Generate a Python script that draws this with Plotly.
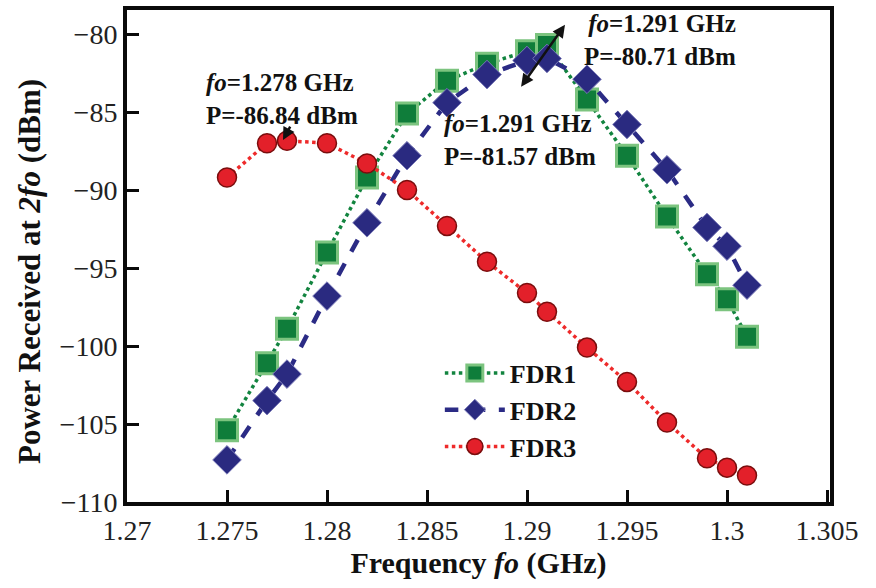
import plotly.graph_objects as go

# Measured second-harmonic power for three FDR configurations
freq_ghz = [1.275, 1.277, 1.278, 1.28, 1.282, 1.284, 1.286, 1.288,
            1.29, 1.291, 1.293, 1.295, 1.297, 1.299, 1.3, 1.301]
fdr1 = [-105.4, -101.1, -98.9, -94.0, -89.2, -85.1, -83.0, -81.9,
        -81.1, -80.71, -84.2, -87.8, -91.7, -95.4, -97.0, -99.4]
fdr2 = [-107.3, -103.5, -101.8, -96.8, -92.1, -87.8, -84.4, -82.6,
        -81.7, -81.57, -82.9, -85.8, -88.7, -92.4, -93.6, -96.1]
fdr3 = [-89.2, -87.0, -86.84, -87.0, -88.3, -90.0, -92.3, -94.6,
        -96.6, -97.8, -100.1, -102.3, -104.9, -107.2, -107.8, -108.3]

x_ticks = [1.27, 1.275, 1.28, 1.285, 1.29, 1.295, 1.3, 1.305]
x_tick_text = ["1.27", "1.275", "1.28", "1.285", "1.29", "1.295", "1.3", "1.305"]
y_ticks = [-110, -105, -100, -95, -90, -85, -80]
y_tick_text = ["\u2212110", "\u2212105", "\u2212100", "\u221295", "\u221290", "\u221285", "\u221280"]

# Peak readings called out on the plot
peak3 = (1.278, -86.84)
peak2 = (1.291, -81.57)
peak1 = (1.291, -80.71)

FONT = "Liberation Serif, Times New Roman, serif"

fig = go.Figure()
fig.add_trace(go.Scatter(
    x=freq_ghz, y=fdr1, name="<b>FDR1</b>", mode="lines+markers", legendgroup="a",
    line=dict(color="#12843f", width=3.5, dash="dot"),
    marker=dict(symbol="square", size=21, color="#0f7d3a",
                line=dict(color="#7cc47f", width=3)),
))
fig.add_trace(go.Scatter(
    x=freq_ghz, y=fdr2, name="<b>FDR2</b>", mode="lines+markers", legendgroup="b",
    line=dict(color="#2b2b85", width=4.5, dash="dash"),
    marker=dict(symbol="diamond", size=22, color="#2a2a80",
                line=dict(color="#7a7ab8", width=1)),
))
fig.add_trace(go.Scatter(
    x=freq_ghz, y=fdr3, name="<b>FDR3</b>", mode="lines+markers", legendgroup="c",
    line=dict(color="#ee2a2a", width=3.5, dash="dot"),
    marker=dict(symbol="circle", size=19, color="#e3202a",
                line=dict(color="#7a0d0d", width=1.5)),
))

ann_font = dict(family=FONT, size=25, color="#111111")
annotations = [
    # FDR3 peak label
    dict(x=peak3[0] - 0.00025, y=peak3[1] + 2.67,
         text="<b><i>fo</i>=1.278 GHz<br>P=-86.84 dBm</b>",
         xanchor="center", yanchor="middle", align="left", showarrow=False, font=ann_font),
    dict(x=peak3[0] - 0.0002, y=peak3[1] + 0.05, ax=peak3[0] + 0.0002, ay=peak3[1] + 1.0,
         xref="x", yref="y", axref="x", ayref="y", text="", showarrow=True,
         arrowhead=2, arrowsize=1, arrowwidth=2.5, arrowcolor="#111111"),
    # FDR2 peak label
    dict(x=peak2[0] - 0.00135, y=peak2[1] - 5.23,
         text="<b><i>fo</i>=1.291 GHz<br>P=-81.57 dBm</b>",
         xanchor="center", yanchor="middle", align="left", showarrow=False, font=ann_font),
    # FDR1 peak label
    dict(x=peak1[0] + 0.00955, y=peak1[1] + 0.35,
         text="<b><i>fo</i>=1.291 GHz<br>P=-80.71 dBm</b>",
         xanchor="right", yanchor="middle", align="right", showarrow=False, font=ann_font),
    # double-headed pointer between the two 1.291 GHz readings
    dict(x=peak1[0] + 0.0009, y=peak1[1] + 1.3, ax=peak1[0] - 0.00135, ay=peak2[1] - 1.9,
         xref="x", yref="y", axref="x", ayref="y", text="", showarrow=True,
         arrowhead=2, startarrowhead=2, arrowside="end+start", arrowsize=1,
         arrowwidth=2.5, arrowcolor="#111111"),
    # y-axis title
    dict(xref="paper", yref="paper", x=-0.139, y=0.468, textangle=-90,
         text="<b>Power Received at <i>2fo</i> (dBm)</b>", showarrow=False,
         xanchor="center", yanchor="middle",
         font=dict(family=FONT, size=31, color="#111111")),
]

tick_font = dict(family=FONT, size=28, color="#222222")

fig.update_layout(
    width=876, height=588,
    margin=dict(l=127, r=46, t=10, b=86),
    paper_bgcolor="white", plot_bgcolor="white",
    font=dict(family=FONT, size=28, color="#222222"),
    legend=dict(x=0.445, y=0.31, xanchor="left", yanchor="top",
                bgcolor="rgba(0,0,0,0)", itemwidth=60, tracegroupgap=18,
                font=dict(family=FONT, size=26, color="#111111"),
                traceorder="normal"),
    annotations=annotations,
    showlegend=True,
)
fig.update_xaxes(
    range=[1.27, 1.30515], tickmode="array", tickvals=x_ticks, ticktext=x_tick_text,
    tickfont=tick_font,
    title=dict(text="<b>Frequency <i>fo</i> (GHz)</b>", standoff=8,
               font=dict(family=FONT, size=30, color="#111111")),
)
fig.update_yaxes(
    range=[-110, -78.46], tickmode="array", tickvals=y_ticks, ticktext=y_tick_text,
    tickfont=tick_font,
)
fig.update_xaxes(
    showgrid=False, zeroline=False, showline=True, mirror=True,
    linecolor="#0a0a0a", linewidth=4, ticks="inside", ticklen=12,
    tickwidth=3, tickcolor="#0a0a0a", automargin=False,
)
fig.update_yaxes(
    showgrid=False, zeroline=False, showline=True, mirror=True,
    linecolor="#0a0a0a", linewidth=4, ticks="inside", ticklen=12,
    tickwidth=3, tickcolor="#0a0a0a", automargin=False,
)

fig.write_html("out.html")
